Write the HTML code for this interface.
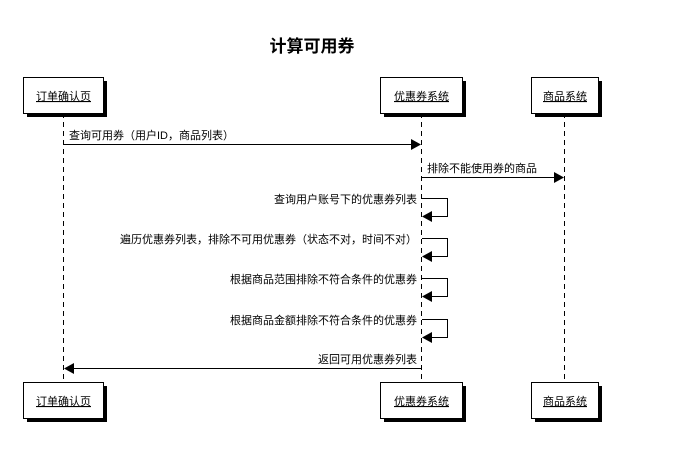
<!DOCTYPE html>
<html><head><meta charset="utf-8"><style>
body{margin:0;background:#fff}
svg text{font-family:"Liberation Sans","Noto Sans CJK SC",sans-serif;font-size:11px;fill:#000}
</style></head><body>
<svg width="680" height="465" xmlns="http://www.w3.org/2000/svg">
<defs><filter id="s" x="-10%" y="-10%" width="130%" height="130%"><feOffset dx="4" dy="4"/></filter></defs>
<text x="312" y="52" text-anchor="middle" style="font-size:17px;font-weight:bold">计算可用券</text>
<g stroke="#000" stroke-dasharray="5,4" stroke-width="1">
<line x1="63.5" y1="113" x2="63.5" y2="383"/>
<line x1="421.5" y1="113" x2="421.5" y2="383"/>
<line x1="564.5" y1="113" x2="564.5" y2="383"/>
</g>
<g fill="#000">
<rect x="27" y="81" width="80" height="36"/><rect x="384" y="81" width="82" height="36"/><rect x="535" y="81" width="67" height="36"/>
<rect x="27" y="386" width="80" height="36"/><rect x="384" y="386" width="82" height="36"/><rect x="535" y="386" width="67" height="36"/>
</g>
<g fill="#fff" stroke="#000">
<rect x="23.5" y="77.5" width="80" height="36"/><rect x="380.5" y="77.5" width="82" height="36"/><rect x="531.5" y="77.5" width="67" height="36"/>
<rect x="23.5" y="382.5" width="80" height="36"/><rect x="380.5" y="382.5" width="82" height="36"/><rect x="531.5" y="382.5" width="67" height="36"/>
</g>
<g text-anchor="middle" text-decoration="underline">
<text x="63.5" y="100">订单确认页</text><text x="421.5" y="100">优惠券系统</text><text x="565" y="100">商品系统</text>
<text x="63.5" y="405">订单确认页</text><text x="421.5" y="405">优惠券系统</text><text x="565" y="405">商品系统</text>
</g>
<g stroke="#000" fill="none">
<line x1="64" y1="144.5" x2="412" y2="144.5"/>
<line x1="422" y1="177.5" x2="555" y2="177.5"/>
<polyline points="422,198.5 447.5,198.5 447.5,216.5 430,216.5"/>
<polyline points="422,238.5 447.5,238.5 447.5,256.5 430,256.5"/>
<polyline points="422,278.5 447.5,278.5 447.5,296.5 430,296.5"/>
<polyline points="422,319.5 447.5,319.5 447.5,337.5 430,337.5"/>
<line x1="72" y1="368.5" x2="421" y2="368.5"/>
</g>
<g fill="#000">
<polygon points="411,139 421,144.5 411,150"/>
<polygon points="554,172 564,177.5 554,183"/>
<polygon points="432,211 422,216.5 432,222"/>
<polygon points="432,251 422,256.5 432,262"/>
<polygon points="432,291 422,296.5 432,302"/>
<polygon points="432,332 422,337.5 432,343"/>
<polygon points="74,363 64,368.5 74,374"/>
</g>
<text x="69" y="139">查询可用券（用户ID，商品列表）</text>
<text x="427" y="172">排除不能使用券的商品</text>
<g text-anchor="end">
<text x="417" y="203">查询用户账号下的优惠券列表</text>
<text x="417" y="243">遍历优惠券列表，排除不可用优惠券（状态不对，时间不对）</text>
<text x="417" y="283">根据商品范围排除不符合条件的优惠券</text>
<text x="417" y="324">根据商品金额排除不符合条件的优惠券</text>
<text x="417" y="363">返回可用优惠券列表</text>
</g>
</svg>
</body></html>
